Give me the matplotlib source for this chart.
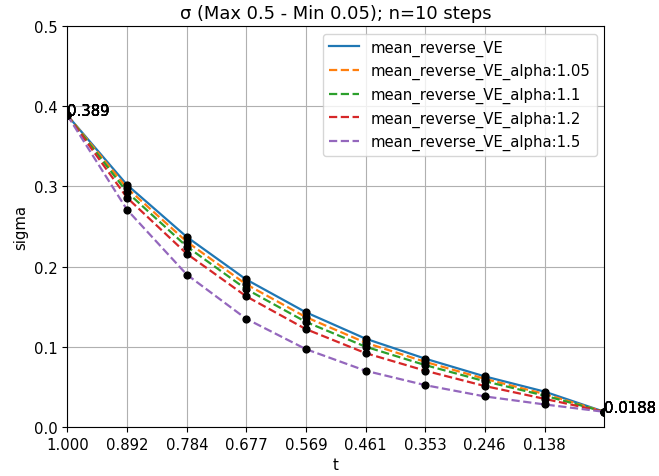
import numpy as np
import matplotlib.pyplot as plt

plt.rcParams["font.size"] = 10.7

# time steps (n=10)
t = [1.000, 0.892, 0.784, 0.677, 0.569, 0.461, 0.353, 0.246, 0.138, 0.030]

# sigma values
sigma_ve = [0.389, 0.302, 0.237, 0.184, 0.143, 0.110, 0.085, 0.063, 0.044, 0.0188]
sigma_a105 = [0.389, 0.298, 0.231, 0.178, 0.137, 0.105, 0.081, 0.060, 0.041, 0.0188]
sigma_a11 = [0.389, 0.293, 0.225, 0.172, 0.131, 0.100, 0.077, 0.057, 0.039, 0.0188]
sigma_a12 = [0.389, 0.286, 0.216, 0.163, 0.122, 0.092, 0.070, 0.051, 0.035, 0.0188]
sigma_a15 = [0.389, 0.271, 0.190, 0.135, 0.097, 0.070, 0.052, 0.038, 0.028, 0.0188]

series = [
    ("mean_reverse_VE", sigma_ve, "-"),
    ("mean_reverse_VE_alpha:1.05", sigma_a105, "--"),
    ("mean_reverse_VE_alpha:1.1", sigma_a11, "--"),
    ("mean_reverse_VE_alpha:1.2", sigma_a12, "--"),
    ("mean_reverse_VE_alpha:1.5", sigma_a15, "--"),
]

fig = plt.figure(figsize=(6.59, 4.77), dpi=100)
ax = fig.add_axes([0.102, 0.103, 0.815, 0.840])

for name, s, ls in series:
    ax.plot(t, s, ls, label=name, linewidth=1.6)
    ax.scatter(t, s, color="black", s=24, zorder=3)
    ax.text(t[0], s[0], "%.3g" % s[0])
    ax.text(t[-1], s[-1], "%.3g" % s[-1])

ax.set_xlim(t[0], t[-1])
ax.set_ylim(0, 0.5)
ax.set_xticks(t[:-1])
ax.set_xticklabels(["%.3f" % v for v in t[:-1]])
ax.set_xlabel("t")
ax.set_ylabel("sigma")
ax.set_title("σ (Max 0.5 - Min 0.05); n=10 steps")
ax.grid(True)
ax.legend(loc="upper right")

fig.savefig("out.png", dpi=100)
